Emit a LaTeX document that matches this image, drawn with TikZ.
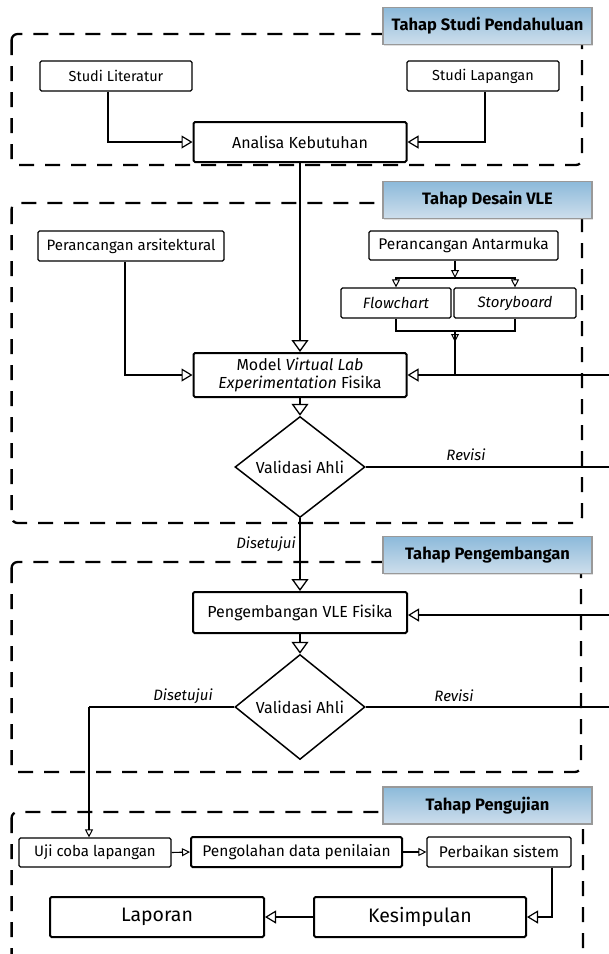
\documentclass[tikz,border=0pt]{standalone}
\usepackage{fontspec}
\setmainfont{Fira Sans}
\usetikzlibrary{arrows.meta,shapes.geometric,shadows}
\definecolor{phtop}{RGB}{140,186,218}
\definecolor{phbot}{RGB}{206,222,236}
\tikzset{
  box/.style={draw, line width=1.2pt, rounded corners=1.5pt, fill=white, inner sep=1pt,
    font=\fontsize{15}{18}\selectfont},
  bbox/.style={box, line width=2pt, font=\fontsize{16}{19}\selectfont},
  lbox/.style={box, line width=2pt, font=\fontsize{19.5}{22}\selectfont},
  dec/.style={diamond, draw, line width=1.5pt, fill=white, inner sep=0pt, aspect=1.3,
    font=\fontsize{16}{19}\selectfont},
  phase/.style={draw=black!40, line width=1.2pt, top color=phtop, bottom color=phbot,
    minimum width=209pt, minimum height=37pt, inner sep=0pt,
    font=\bfseries\fontsize{16.5}{19}\selectfont,
    drop shadow={opacity=0.25, shadow xshift=1pt, shadow yshift=-1pt}},
  frame/.style={line width=2.3pt, dash pattern=on 15pt off 11pt, rounded corners=6pt},
  conn/.style={line width=1.1pt},
  arrbig/.style={-{Triangle[open, length=12pt, width=17pt, line width=1.3pt]}},
  arrmid/.style={-{Triangle[open, length=11pt, width=13pt, line width=1.2pt]}},
  arrsmall/.style={-{Triangle[open, length=8pt, width=8pt, line width=1pt]}},
  lbl/.style={font=\itshape\fontsize{15}{18}\selectfont, inner sep=1pt},
}
\begin{document}
\begin{tikzpicture}[x=1pt, y=-1pt]
\useasboundingbox (0,0) rectangle (609,954);
\fill[white] (0,0) rectangle (609,954);

% dashed frames
\draw[frame] (11.6,34) rectangle (582,165);
\draw[frame] (11.6,203) rectangle (582,523);
\draw[frame] (11.6,562) rectangle (581,772);
\draw[frame] (11.6,812) rectangle (583,990);

% phase labels
\node[phase] (ph1) at (487.5,26) {Tahap Studi Pendahuluan};
\node[phase] (ph2) at (487.5,200) {Tahap Desain VLE};
\node[phase] (ph3) at (487.5,555) {Tahap Pengembangan};
\node[phase] (ph4) at (487.5,805.5) {Tahap Pengujian};

% stage 1
\node[box, minimum width=152pt, minimum height=30pt, font=\fontsize{14.5}{17}\selectfont] (sl) at (116,76) {Studi Literatur};
\node[box, minimum width=152pt, minimum height=30pt, font=\fontsize{14.5}{17}\selectfont] (slp) at (483,76) {Studi Lapangan};
\node[bbox, minimum width=213pt, minimum height=40pt] (ak) at (300,142) {Analisa Kebutuhan};

% stage 2
\node[box, minimum width=186pt, minimum height=30pt] (pa) at (131,246) {Perancangan arsitektural};
\node[box, minimum width=189pt, minimum height=29pt, font=\fontsize{15.5}{18}\selectfont] (pm) at (463.5,245.5) {Perancangan Antarmuka};
\node[box, minimum width=110pt, minimum height=30pt] (fc) at (396,303) {\textit{Flowchart}};
\node[box, minimum width=122pt, minimum height=30pt] (sb) at (515,303) {\textit{Storyboard}};
\node[bbox, minimum width=213pt, minimum height=44pt, align=center] (model) at (300,375)
  {Model \textit{Virtual Lab}\\[-1pt]\textit{Experimentation} Fisika};
\node[dec, minimum width=130pt, minimum height=101pt] (d1) at (300,467) {Validasi Ahli};

% stage 3
\node[bbox, minimum width=214pt, minimum height=41pt] (pv) at (300,612.5) {Pengembangan VLE Fisika};
\node[dec, minimum width=130pt, minimum height=105pt] (d2) at (300,707) {Validasi Ahli};

% stage 4
\node[box, minimum width=152pt, minimum height=29pt] (uji) at (95,852.5) {Uji coba lapangan};
\node[bbox, minimum width=211pt, minimum height=30pt, font=\fontsize{15.5}{18}\selectfont] (pd) at (296.5,852) {Pengolahan data penilaian};
\node[box, minimum width=144pt, minimum height=30pt, font=\fontsize{15.5}{18}\selectfont] (pb) at (499,852) {Perbaikan sistem};
\node[lbox, minimum width=214pt, minimum height=40pt] (lap) at (157,917) {Laporan};
\node[lbox, minimum width=212pt, minimum height=40pt] (kes) at (420,917) {Kesimpulan};

% coordinates
\coordinate (split) at (455,278);
\coordinate (join) at (455,331);
\coordinate (r1) at (612,375);
\coordinate (r2) at (612,467);
\coordinate (r3) at (612,615);
\coordinate (r4) at (612,707);
\coordinate (dl) at (89,707);

% connectors stage 1
\draw[conn, arrmid] ([xshift=-8pt]sl.south) |- (ak.west);
\draw[conn, arrmid] ([xshift=2pt]slp.south) |- (ak.east);
\draw[conn, arrbig] (ak.south) -- (model.north);

% connectors stage 2
\draw[conn, arrmid] ([xshift=-6pt]pa.south) |- (model.west);
\draw[conn, arrsmall] (pm.south -| split) -- (split);
\draw[conn, arrsmall] (split) -| (fc.north);
\draw[conn, arrsmall] (split) -| (sb.north);
\draw[conn] (fc.south) |- (join) -| (sb.south);
\draw[conn] (join) -- (join |- model.east);
\draw[conn, arrsmall] (join) -- ++(0,11);
\draw[conn, arrmid] (r1) -- (model.east);
\draw[conn, arrbig] (model.south) -- (d1.north);
\draw[conn] (d1.east) -- (r2);
\node[lbl] (rev1) at (466,455) {Revisi};
\draw[conn, arrbig] (d1.south) -- (pv.north);
\node[lbl] (dis1) at (266,544) {Disetujui};

% connectors stage 3
\draw[conn, arrmid] (r3) -- (pv.east |- r3);
\draw[conn, arrbig] (pv.south) -- (d2.north);
\draw[conn] (d2.east) -- (r4);
\node[lbl] (rev2) at (454,696) {Revisi};
\draw[conn] (d2.west) -- (dl);
\draw[conn, arrsmall] (dl) -- (dl |- uji.north);
\node[lbl] (dis2) at (183,696) {Disetujui};

% connectors stage 4
\draw[conn, arrsmall] (uji.east) -- (pd.west);
\draw[conn, arrsmall] (pd.east) -- (pb.west);
\draw[conn, arrmid] ([xshift=53pt]pb.south) |- (kes.east);
\draw[conn, arrmid] (kes.west) -- (lap.east);
\end{tikzpicture}
\end{document}
